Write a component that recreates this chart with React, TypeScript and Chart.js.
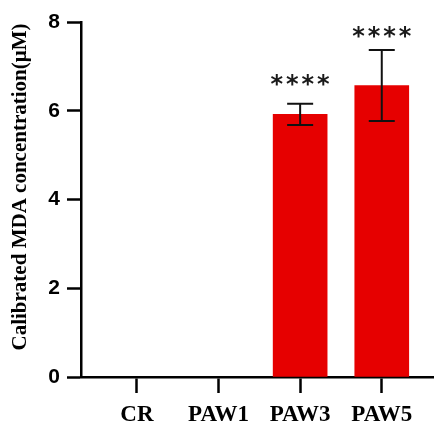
import React, { useEffect, useRef } from "react";
import { Chart, registerables } from "chart.js";

Chart.register(...registerables);

const categories = ["CR", "PAW1", "PAW3", "PAW5"];
const means = [0, 0, 5.92, 6.57];
const errors = [0, 0, 0.24, 0.8];
const sigLabels = ["", "", "****", "****"];
const sigLevels = [null, null, 6.67, 7.75];
const yTicks = [0, 2, 4, 6, 8];
const yTitle = "Calibrated MDA concentration(μM)";

const overlay = {
  id: "overlay",
  afterDatasetsDraw(chart: any) {
    const ctx = chart.ctx;
    const xs = chart.scales.x;
    const ys = chart.scales.y;
    ctx.save();
    ctx.strokeStyle = "#111";
    ctx.lineWidth = 2;
    means.forEach((m, i) => {
      const e = errors[i];
      if (!e) return;
      const x = xs.getPixelForValue(i);
      const yt = ys.getPixelForValue(m + e);
      const yb = ys.getPixelForValue(m - e);
      const cap = 13;
      ctx.beginPath();
      ctx.moveTo(x, yt);
      ctx.lineTo(x, yb);
      ctx.moveTo(x - cap, yt);
      ctx.lineTo(x + cap, yt);
      ctx.moveTo(x - cap, yb);
      ctx.lineTo(x + cap, yb);
      ctx.stroke();
    });
    ctx.fillStyle = "#1a1a1a";
    ctx.textAlign = "center";
    ctx.textBaseline = "middle";
    ctx.font = 'bold 24px "DejaVu Sans"';
    sigLabels.forEach((s, i) => {
      const lv = sigLevels[i];
      if (!s || lv == null) return;
      const x = xs.getPixelForValue(i);
      const y = ys.getPixelForValue(lv);
      const n = s.length;
      const step = 15.5;
      for (let k = 0; k < n; k++) {
        ctx.fillText("*", x + (k - (n - 1) / 2) * step, y + 5);
      }
    });
    // y title
    ctx.fillStyle = "#000";
    ctx.font = 'bold 20px "Liberation Serif"';
    const w = ctx.measureText(yTitle).width;
    const target = 327;
    ctx.translate(21, 187);
    ctx.rotate(-Math.PI / 2);
    ctx.scale(target / w, 1);
    ctx.textAlign = "center";
    ctx.textBaseline = "middle";
    ctx.fillText(yTitle, 0, 0);
    ctx.restore();
  },
};

export default function App() {
  const ref = useRef<HTMLCanvasElement>(null);
  useEffect(() => {
    const chart = new Chart(ref.current!, {
      type: "bar",
      data: {
        datasets: [
          {
            data: means.map((v, i) => ({ x: i, y: v === 0 ? null : v })),
            backgroundColor: "#e60000",
            borderWidth: 0,
            barThickness: 54,
          },
        ],
      },
      options: {
        animation: false,
        responsive: true,
        maintainAspectRatio: false,
        layout: { padding: { left: 0, right: 0, top: 22, bottom: 0 } },
        plugins: { legend: { display: false }, tooltip: { enabled: false } },
        scales: {
          x: {
            type: "linear",
            min: -0.685,
            max: 3.64,
            offset: false,
            afterBuildTicks: (s: any) => {
              s.ticks = categories.map((_, i) => ({ value: i }));
            },
            afterFit: (s: any) => {
              s.height = 423 - 377;
            },
            ticks: {
              callback: (v: any) => categories[v] ?? "",
              color: "#000",
              font: { family: '"Liberation Serif"', weight: "bold", size: 23 },
              padding: 8,
              maxRotation: 0,
              autoSkip: false,
            },
            grid: {
              display: true,
              offset: false,
              drawOnChartArea: false,
              drawTicks: true,
              tickLength: 16,
              tickWidth: 2.5,
              tickColor: "#000",
            },
            border: { display: true, color: "#000", width: 2.5 },
          },
          y: {
            min: 0,
            max: 8,
            afterBuildTicks: (s: any) => {
              s.ticks = yTicks.map((v) => ({ value: v }));
            },
            afterFit: (s: any) => {
              s.width = 81;
            },
            ticks: {
              color: "#000",
              font: { family: '"Liberation Sans"', weight: "bold", size: 21 },
              padding: 7,
            },
            grid: {
              display: true,
              drawOnChartArea: false,
              drawTicks: true,
              tickLength: 14,
              tickWidth: 2.5,
              tickColor: "#000",
            },
            border: { display: true, color: "#000", width: 2.5 },
          },
        },
      },
      plugins: [overlay],
    });
    return () => chart.destroy();
  }, []);
  return (
    <div style={{ position: "absolute", left: 0, top: 0, width: 434, height: 423, background: "#fff" }}>
      <canvas ref={ref} />
    </div>
  );
}
